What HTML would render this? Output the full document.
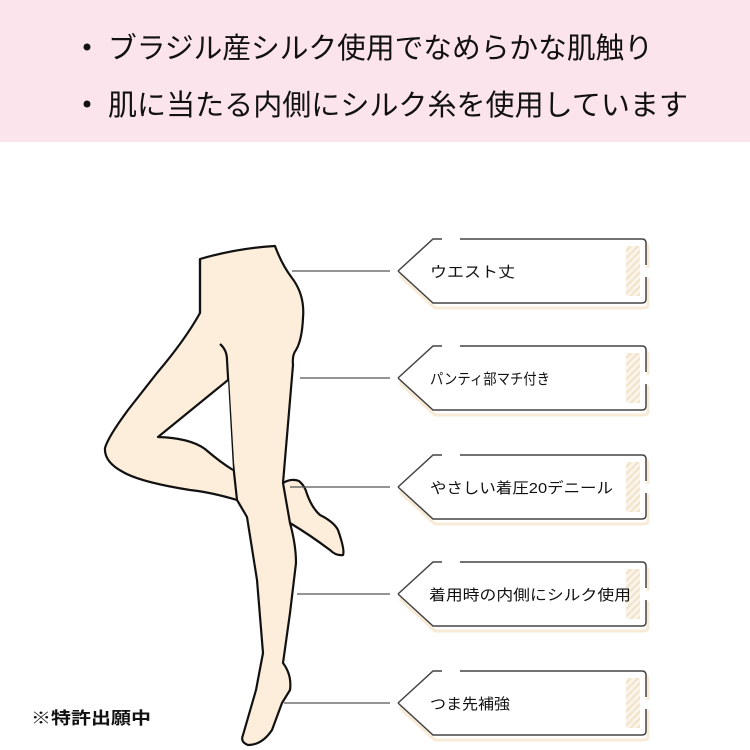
<!DOCTYPE html>
<html><head><meta charset="utf-8"><style>
html,body{margin:0;padding:0;background:#fff;}
svg{display:block;}
text{font-family:"Liberation Sans","Noto Sans CJK JP",sans-serif;}
</style></head><body>
<svg width="750" height="750" viewBox="0 0 750 750" xmlns="http://www.w3.org/2000/svg">
<defs>
<pattern id="st" width="5" height="5" patternUnits="userSpaceOnUse" patternTransform="rotate(45)">
<rect width="5" height="5" fill="#fbf4e8"/><rect width="2" height="5" fill="#f1e2cb"/>
</pattern>
<g id="box">
<path d="M-242,3 L-207,-29 L2,-29 Q6,-29 6,-25 L6,-5 M6,5 L6,31 Q6,35 2,35 L-207,35 L-242,3" fill="none" stroke="#f7ead6" stroke-width="3" transform="translate(2,2)"/>
<path d="M-242,0 L-207,-32 L2,-32 Q6,-32 6,-28 L6,28 Q6,32 2,32 L-207,32 Z" fill="#fff"/>
<path d="M-242,0 L-207,-32 L-198,-32 M-180,-32 L2,-32 Q6,-32 6,-28 L6,-6 M6,6 L6,28 Q6,32 2,32 L-207,32 L-242,0" fill="none" stroke="#444" stroke-width="1.5"/>
<rect x="-14" y="-25" width="14" height="50" fill="url(#st)"/>
</g>
</defs>
<rect x="0" y="0" width="750" height="142" fill="#fce4ec"/>
<circle cx="87" cy="47" r="3.5" fill="#111"/>
<text x="108" y="58" font-size="29" fill="#111" textLength="545" lengthAdjust="spacingAndGlyphs">ブラジル産シルク使用でなめらかな肌触り</text>
<circle cx="87" cy="104" r="3.5" fill="#111"/>
<text x="108" y="115" font-size="29" fill="#111" textLength="580" lengthAdjust="spacingAndGlyphs">肌に当たる内側にシルク糸を使用しています</text>

<!-- legs -->
<path d="M200,259 Q238,248 275,246 Q282,265 292,278 Q305,295 303,318 Q302,340 296,350 Q292,355 293,365 L283,483 Q291,478 299,481 Q305,486 307,494 Q312,508 320,515 Q334,522 338,530 Q345,550 343,555 Q336,556 330,550 Q310,535 290,523 Q296,545 296,563 L290,613 L283,663 Q292,675 290,690 L282,703 L272,730 Q262,745 248,745 Q240,742 243,735 L256,690 L263,653 L257,580 L247,517 Q240,505 237,500 Q210,492 190,490 Q140,482 123,472 Q104,462 105,448 Q108,437 128,410 L157,373 Q185,340 200,313 Z" fill="#fdeedc" stroke="#111" stroke-width="2.2" stroke-linejoin="round"/>
<path d="M200,259 L200,313" fill="none" stroke="#111" stroke-width="2.2"/>
<path d="M220,344 Q227,350 227,360 L233,463 L237,500" fill="none" stroke="#111" stroke-width="2.2"/>
<path d="M228,380 L158,437 Q190,438 205,449 Q220,462 233,470" fill="#fff" stroke="#111" stroke-width="2.2" stroke-linejoin="round"/>
<path d="M283,483 L290,523" fill="none" stroke="#111" stroke-width="2.2"/>

<!-- connectors -->
<g stroke="#555" stroke-width="1.3">
<line x1="292" y1="271" x2="390" y2="271"/>
<line x1="300" y1="378" x2="390" y2="378"/>
<line x1="290" y1="487" x2="390" y2="487"/>
<line x1="297" y1="594" x2="390" y2="594"/>
<line x1="284" y1="703" x2="390" y2="703"/>
</g>
<use href="#box" x="640" y="271"/>
<use href="#box" x="640" y="378"/>
<use href="#box" x="640" y="487"/>
<use href="#box" x="640" y="594"/>
<use href="#box" x="640" y="703"/>
<g font-size="15" fill="#111">
<text x="430" y="277" textLength="85" lengthAdjust="spacingAndGlyphs">ウエスト丈</text>
<text x="430" y="384" textLength="120" lengthAdjust="spacingAndGlyphs">パンティ部マチ付き</text>
<text x="430" y="493" textLength="183" lengthAdjust="spacingAndGlyphs">やさしい着圧20デニール</text>
<text x="429" y="600" textLength="202" lengthAdjust="spacingAndGlyphs">着用時の内側にシルク使用</text>
<text x="430" y="709" textLength="80" lengthAdjust="spacingAndGlyphs">つま先補強</text>
</g>
<text x="31" y="724" font-size="17" fill="#111" font-weight="bold" textLength="120" lengthAdjust="spacingAndGlyphs">※特許出願中</text>
</svg>
</body></html>
